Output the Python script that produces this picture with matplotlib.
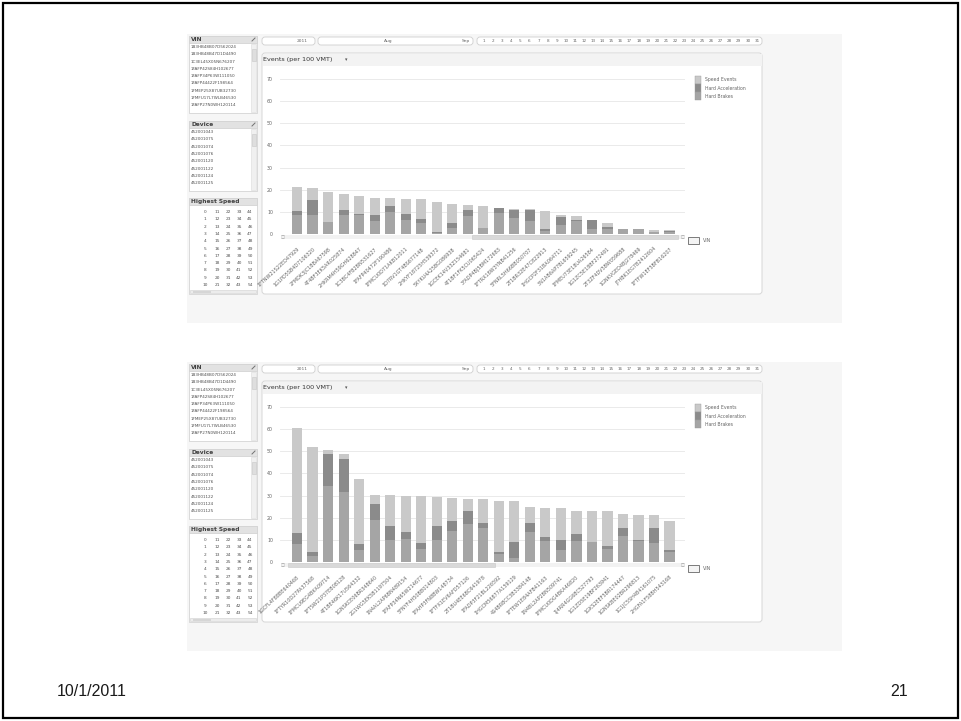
import matplotlib
matplotlib.use('Agg')

import numpy as np
import matplotlib.pyplot as plt
from matplotlib.patches import Rectangle, FancyBboxPatch

W, H = 961, 721

# --- values ---
series_names = ["Speed Events", "Hard Acceleration", "Hard Brakes"]
y_ticks = [0, 10, 20, 30, 40, 50, 60, 70]

top_vins = ["1FTNW21S22ED47929", "1G1PD5SB4D7106320", "2FMDK3JC1BBA67598", "4T4BF3EK5AR025874",
            "2HKRM4H59GH628847", "1C3BC4FB2BN531627", "1FAFP40472F190486", "1FMCU0D71AKB12011",
            "1D7RV1GT4BS677148", "2HKYF18725H539372", "5XYKU4A25BG086938", "1GCEK14V33Z154681",
            "4T1BF1FK5CU065424", "3FADP4BJ5BM172683", "1FTRX18W3YNB41256", "5FNRL5H66BB050707",
            "2T1BR32E47C822913", "1HGCP2F31BA064711", "3N1AB6AP7BL659245", "1FMEU73E18UA26584",
            "1G1ZC5E18BF272491", "2T3ZF4DV5BW059688", "1GNKVGED4BJ278469", "JTHBK1EG7B2412604",
            "1FTFW1EF5BFB16207"]
top_brakes = [8.4, 8.4, 5.3, 8.4, 8.7, 5.7, 9.8, 6.5, 5.0, 0.4, 2.7, 8.0, 2.7,
              9.5, 7.2, 6.0, 1.2, 4.2, 5.7, 2.4, 2.4, 2.4, 2.3, 0.7, 0.7]
top_accel = [2.1, 6.8, 0.0, 2.6, 0.5, 2.7, 2.8, 2.5, 1.9, 0.4, 2.1, 3.0, 0.0,
             2.2, 3.8, 5.0, 1.2, 3.5, 0.8, 4.1, 0.6, 0.0, 0.0, 0.3, 0.5]
top_speed = [10.7, 5.7, 13.5, 7.0, 8.1, 8.0, 3.6, 6.8, 8.9, 13.8, 8.9, 2.2, 9.9,
             0.0, 0.1, 0.1, 8.1, 0.9, 1.8, 0.0, 1.8, 0.0, 0.0, 0.8, 0.6]

bottom_vins = ["1GCFL4F88BE640468", "1FTYR10D27PA37568", "1FMCU9EG4BKA09714", "1FTSW21P37EB08128",
               "4T1BE46K17U564332", "1GNSKCE06BR348640", "2G1WG5EK5B1197504", "1N4AL2AP6BN489154",
               "1FAFP34N65W214677", "5FNYF4H50BB014803", "1FAHP3FN8BW148734", "1FTFX1EV6AFD57126",
               "2T1BU4EE6BC641978", "1FADP3F21BL226592", "1HGCM56877A159129", "4S4BRBCC3B3384148",
               "1FTEW1E84AFB41163", "1N4BL2AP2BN509741", "1FMCU0DG4BKA46820", "1J4RR4GG6BC527793",
               "1G1ZD5E19BF263941", "1GKS2EEF5BR174447", "1GNSKBE02BR296813", "1G1JC5SH4B4161075",
               "2HGFA1F58BH543168"]
bottom_brakes = [8.3, 2.9, 34.5, 31.8, 5.6, 19.1, 9.8, 10.4, 5.9, 10.1, 13.9, 17.3, 15.5,
                 3.8, 1.7, 13.4, 9.3, 5.6, 9.5, 9.0, 5.9, 11.9, 9.3, 8.6, 4.7]
bottom_accel = [4.8, 1.5, 14.4, 14.7, 2.4, 7.3, 6.3, 3.2, 2.7, 6.0, 4.5, 5.6, 2.1,
                0.6, 7.5, 4.2, 2.0, 4.5, 3.0, 0.0, 1.2, 3.5, 0.8, 6.8, 0.9]
bottom_speed = [47.4, 47.6, 1.9, 2.4, 29.5, 4.0, 14.0, 16.4, 21.4, 13.1, 10.4, 5.7, 11.0,
                23.2, 18.4, 7.2, 13.2, 14.4, 10.4, 13.9, 15.8, 6.4, 11.3, 5.7, 12.9]

list_vins = ["1B3HB48B07D562024", "1B3HB48B47D1D4490", "1C3EL45X05N676207", "1FAFP42S84H102677",
             "1FAFP34P63W111050", "1FAFP44422F198564", "1FMEP25X87UB32730", "1FMFU17L7WLB46530",
             "1FAFP27N0WH120114"]
list_devices = ["452001043", "452001075", "452001074", "452001076", "452001120",
                "452001122", "452001124", "452001125"]
speed_values = list(range(55))
days = list(range(1, 32))
year_label = "2011"
month_labels = ["Aug", "Sep"]

c_speed, c_accel, c_brake = "#c9c9c9", "#8b8b8b", "#a5a5a5"
txt_gray = "#666666"

fig = plt.figure(figsize=(W / 100, H / 100), dpi=100)
bg = fig.add_axes([0, 0, 1, 1], zorder=0)
bg.set_xlim(0, W)
bg.set_ylim(H, 0)
bg.axis('off')


def frac(x0, y0, x1, y1):
    return [x0 / W, 1 - y1 / H, (x1 - x0) / W, (y1 - y0) / H]


def listbox(x0, y0, x1, y1, title, rows):
    bg.add_patch(Rectangle((x0, y0), x1 - x0, y1 - y0, fc='white', ec='#d4d4d4', lw=0.6))
    bg.add_patch(Rectangle((x0, y0), x1 - x0, 7, fc='#e2e2e2', ec='#d4d4d4', lw=0.6))
    bg.text(x0 + 2, y0 + 3.8, title, fontsize=4.2, fontweight='bold', color='#404040', va='center')
    bg.plot([x1 - 5, x1 - 2], [y0 + 5, y0 + 2], color='#707070', lw=0.7)
    # vertical scrollbar
    bg.add_patch(Rectangle((x1 - 6, y0 + 8), 5, y1 - y0 - 9, fc='#f0f0f0', ec='#dcdcdc', lw=0.4))
    bg.add_patch(Rectangle((x1 - 5.5, y0 + 13), 4, 12, fc='#dedede', ec='#c8c8c8', lw=0.4))
    for i, r in enumerate(rows):
        bg.text(x0 + 2, y0 + 11 + i * 7.3, r, fontsize=3.0, color='#505050', va='center')


def draw_panel(dy, vins, brakes, accel, speed, scroll):
    bg.add_patch(Rectangle((187, 34 + dy), 655, 289, fc='#f6f6f6', ec='none'))

    # sidebar list boxes
    listbox(189, 36 + dy, 257, 113 + dy, "VIN", list_vins)
    listbox(189, 121 + dy, 257, 191 + dy, "Device", list_devices)
    y0 = 198 + dy
    bg.add_patch(Rectangle((189, y0), 68, 96, fc='white', ec='#d4d4d4', lw=0.6))
    bg.add_patch(Rectangle((189, y0), 68, 7, fc='#e2e2e2', ec='#d4d4d4', lw=0.6))
    bg.text(191, y0 + 3.8, "Highest Speed", fontsize=4.2, fontweight='bold', color='#404040', va='center')
    col_x = [205, 217, 228, 239, 250]
    for v in speed_values:
        c, r = divmod(v, 11)
        bg.text(col_x[c], 212 + dy + r * 7.3, str(v), fontsize=3.1, color='#505050',
                ha='center', va='center')
    bg.add_patch(Rectangle((190, 290 + dy), 66, 3, fc='#ececec', ec='#d0d0d0', lw=0.4))
    bg.add_patch(Rectangle((193, 290.5 + dy), 18, 2, fc='#d6d6d6', ec='none'))

    # current selections bar
    bg.add_patch(FancyBboxPatch((262, 37 + dy), 53, 8, boxstyle="round,pad=0,rounding_size=3",
                                fc='white', ec='#cfcfcf', lw=0.6))
    bg.text(308, 41 + dy, year_label, fontsize=3.2, color=txt_gray, ha='right', va='center')
    bg.add_patch(FancyBboxPatch((318, 37 + dy), 155, 8, boxstyle="round,pad=0,rounding_size=3",
                                fc='white', ec='#cfcfcf', lw=0.6))
    bg.text(388, 41 + dy, month_labels[0], fontsize=3.2, color=txt_gray, ha='center', va='center')
    bg.text(466, 41 + dy, month_labels[1], fontsize=3.2, color=txt_gray, ha='center', va='center')
    bg.add_patch(FancyBboxPatch((477, 37 + dy), 285, 8, boxstyle="round,pad=0,rounding_size=3",
                                fc='white', ec='#cfcfcf', lw=0.6))
    for i, d in enumerate(days):
        bg.text(484 + i * 9.1, 41 + dy, str(d), fontsize=3.0, color=txt_gray, ha='center', va='center')

    # chart frame
    bg.add_patch(FancyBboxPatch((262, 53 + dy), 500, 241, boxstyle="round,pad=0,rounding_size=3",
                                fc='white', ec='#d6d6d6', lw=0.7))
    bg.add_patch(Rectangle((262.5, 53.5 + dy), 499, 12, fc='#f3f3f3', ec='none'))
    bg.text(263, 59.5 + dy, "Events (per 100 VMT)", fontsize=4.6, color='#333333', va='center')
    bg.text(346, 59.5 + dy, "\u25be", fontsize=3.5, color='#555555', va='center', ha='center')

    # legend
    swatch = [c_speed, c_accel, c_brake]
    for i, (name, col) in enumerate(zip(series_names, swatch)):
        bg.add_patch(Rectangle((695, 76 + dy + i * 8), 6, 8, fc=col, ec='#9a9a9a', lw=0.3))
        bg.text(705, 80 + dy + i * 8, name, fontsize=3.3, color=txt_gray, va='center')

    # scrollbar under the axis and dimension label
    bg.add_patch(Rectangle((282, 235 + dy), 402, 4, fc='#f2f2f2', ec='none'))
    bg.add_patch(Rectangle((scroll[0], 235 + dy), scroll[1] - scroll[0], 4, fc='#d9d9d9',
                           ec='#c8c8c8', lw=0.4))
    bg.text(283, 237 + dy, "\u25a1", fontsize=3, color='#888888', ha='center', va='center')
    bg.text(683, 237 + dy, "\u25a1", fontsize=3, color='#888888', ha='center', va='center')
    bg.add_patch(Rectangle((688, 236.5 + dy), 11, 7, fc='#f4f4f4', ec='#666666', lw=0.6))
    bg.text(703, 240 + dy, "VIN", fontsize=3.4, color=txt_gray, va='center')

    # stacked bars
    ax = fig.add_axes(frac(280, 79 + dy, 685, 234 + dy), zorder=1)
    ax.patch.set_alpha(0)
    x = np.arange(len(vins))
    b = np.array(brakes)
    a = np.array(accel)
    s = np.array(speed)
    ax.bar(x, b, width=0.66, color=c_brake, zorder=2)
    ax.bar(x, a, width=0.66, bottom=b, color=c_accel, zorder=2)
    ax.bar(x, s, width=0.66, bottom=b + a, color=c_speed, zorder=2)
    ax.set_xlim(-1.1, 25.0)
    ax.set_ylim(0, 70)
    ax.set_yticks(y_ticks)
    ax.grid(axis='y', color='#e6e6e6', lw=0.6, zorder=0)
    for sp in ax.spines.values():
        sp.set_visible(False)
    ax.tick_params(axis='y', length=0, pad=5, labelsize=3.4, labelcolor=txt_gray)
    ax.set_xticks(x)
    ax.set_xticklabels(vins, rotation=43, ha='right', va='top', rotation_mode='anchor',
                       fontsize=3.5, color=txt_gray)
    ax.tick_params(axis='x', length=0, pad=9)
    return ax


draw_panel(0, top_vins, top_brakes, top_accel, top_speed, (472, 678))
draw_panel(328, bottom_vins, bottom_brakes, bottom_accel, bottom_speed, (288, 495))

# slide frame and footer
bg.add_patch(Rectangle((3, 3), 955, 715, fill=False, ec='black', lw=1.6))
bg.text(57, 691, "10/1/2011", fontsize=11.5, family=['Liberation Sans', 'DejaVu Sans'],
        color='#1a1a1a', va='center')
bg.text(908, 691, "21", fontsize=11.5, family=['Liberation Sans', 'DejaVu Sans'],
        color='#1a1a1a', va='center', ha='right')

fig.savefig("out.png", dpi=100, facecolor='white')
